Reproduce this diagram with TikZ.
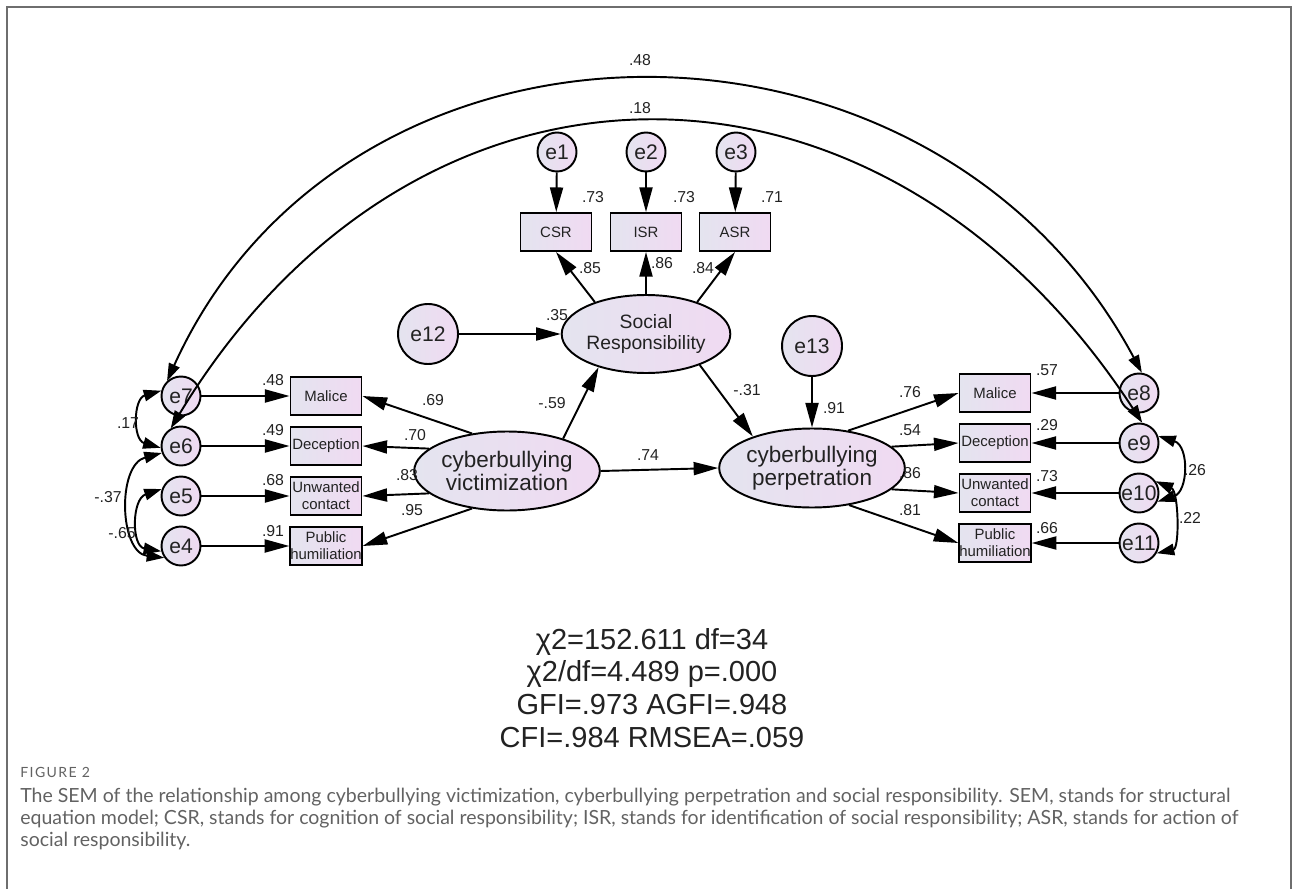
\documentclass[tikz,border=0pt]{standalone}
\usepackage{fontspec}
\setmainfont{Liberation Sans}
\newfontfamily\capfont{Lato}
\newfontfamily\figfont[LetterSpace=10]{Lato}
\usetikzlibrary{arrows.meta,positioning,shapes.geometric}

\definecolor{semlo}{HTML}{E4E4EF}
\definecolor{semhi}{HTML}{F0DAF2}
\definecolor{ink}{HTML}{222222}
\definecolor{capgray}{HTML}{626262}
\definecolor{framegray}{HTML}{6E6E6E}

\begin{document}
\begin{tikzpicture}[
  x=0.02cm, y=-0.02cm,
  shadefill/.style={draw=black, line width=1.1pt, left color=semlo, right color=semhi, text=ink},
  obs/.style={shadefill, rectangle, minimum width=1.42cm, minimum height=0.76cm, inner sep=0pt, align=center, font=\fontsize{8.5}{9.6}\selectfont},
  lat/.style={shadefill, ellipse, minimum width=2.88cm, minimum height=1.58cm, inner sep=0pt, align=center, font=\fontsize{12.8}{13}\selectfont},
  err/.style={shadefill, circle, minimum size=0.78cm, inner sep=0pt, font=\fontsize{12}{12}\selectfont},
  errbig/.style={err, minimum size=1.2cm},
  coef/.style={font=\fontsize{9}{9}\selectfont, text=ink, inner sep=0pt},
  reg/.style={line width=1.1pt, -{Triangle[length=14pt,width=7.4pt]}},
  cov/.style={line width=1.1pt, {Triangle[length=10pt,width=6.5pt]}-{Triangle[length=10pt,width=6.5pt]}}
]
\useasboundingbox (0,0) rectangle (1293,888);
\draw[framegray, line width=1.2pt] (7,900) -- (7,7) -- (1291,7) -- (1291,900);

% social responsibility block
\node[err] (e1) at (557,152) {e1};
\node[err] (e2) at (646,152) {e2};
\node[err] (e3) at (736,152) {e3};
\node[obs] (csr) at (556,232) {CSR};
\node[obs] (isr) at (646,232) {ISR};
\node[obs] (asr) at (735,232) {ASR};
\node[lat, minimum width=2.84cm, minimum height=1.56cm, font=\fontsize{11}{12.5}\selectfont] (soc) at (646,334) {Social\\Responsibility};
\node[errbig] (e12) at (428,334) {e12};
\node[errbig] (e13) at (812,346) {e13};

% latent variables
\node[lat] (vic) at (507,471) {cyberbullying\\victimization};
\node[lat] (per) at (812,468) {cyberbullying\\perpetration};

% victimization indicators
\node[obs] (vmal) at (326,396) {Malice};
\node[obs] (vdec) at (326,446) {Deception};
\node[obs] (vunw) at (326,496) {Unwanted\\contact};
\node[obs] (vpub) at (326,546) {Public\\humiliation};
\node[err] (e7) at (181,396) {e7};
\node[err] (e6) at (181,446) {e6};
\node[err] (e5) at (181,496) {e5};
\node[err] (e4) at (181,546) {e4};

% perpetration indicators
\node[obs] (pmal) at (995,393) {Malice};
\node[obs] (pdec) at (995,443) {Deception};
\node[obs] (punw) at (995,493) {Unwanted\\contact};
\node[obs] (ppub) at (995,543) {Public\\humiliation};
\node[err] (e8) at (1139,393) {e8};
\node[err] (e9) at (1139,443) {e9};
\node[err] (e10) at (1139,493) {e10};
\node[err] (e11) at (1139,543) {e11};

% paths
\draw[reg] (e1) -- (csr);
\draw[reg] (e2) -- (isr);
\draw[reg] (e3) -- (asr);
\draw[reg] (soc.148) -- (csr.south);
\draw[reg] (soc) -- (isr);
\draw[reg] (soc.32) -- (asr.south);
\draw[reg] (e12) -- (soc);
\draw[reg] (vic.30) -- (soc.215);
\draw[reg] (soc.-30) -- (per.152);
\draw[reg] (e13) -- (per);
\draw[reg] (vic.east) -- (per.west);
\draw[reg] (vic.133) -- (vmal.east);
\draw[reg] (vic.164) -- (vdec.east);
\draw[reg] (vic.196) -- (vunw.east);
\draw[reg] (vic.227) -- (vpub.east);
\draw[reg] (per.46) -- (pmal.west);
\draw[reg] (per.15) -- (pdec.west);
\draw[reg] (per.-15) -- (punw.west);
\draw[reg] (per.-45) -- (ppub.west);
\draw[reg] (e7) -- (vmal);
\draw[reg] (e6) -- (vdec);
\draw[reg] (e5) -- (vunw);
\draw[reg] (e4) -- (vpub);
\draw[reg] (e8) -- (pmal);
\draw[reg] (e9) -- (pdec);
\draw[reg] (e10) -- (punw);
\draw[reg] (e11) -- (ppub);

% covariances
\draw[cov] (e7.133) .. controls (348,-18) and (933,-18) .. (e8.82);
\draw[cov] (e6.120) .. controls (417,22) and (881,22) .. (e9.81);
\draw[cov] (e7.165) .. controls +(-28,8) and +(-28,-8) .. (e6.185);
\draw[cov] (e6.200) .. controls +(-45,12) and +(-45,-5) .. (e4.215);
\draw[cov] (e5.160) .. controls +(-30,10) and +(-30,-5) .. (e4.195);
\draw[cov] (e9.20) .. controls +(31,10) and +(31,-10) .. (e10.-25);
\draw[cov] (e10.35) .. controls +(23,10) and +(23,-5) .. (e11.-30);

% estimates
\node[coef] (c48) at (640,60) {.48};
\node[coef] (c18) at (640,108) {.18};
\node[coef] (rcsr) at (593,197) {.73};
\node[coef] (risr) at (684,197) {.73};
\node[coef] (rasr) at (772,197) {.71};
\node[coef] (lcsr) at (590,268) {.85};
\node[coef] (lisr) at (662,263) {.86};
\node[coef] (lasr) at (703,268) {.84};
\node[coef] (rsoc) at (557,315) {.35};
\node[coef] (bvs) at (552,403) {-.59};
\node[coef] (bsp) at (747,390) {-.31};
\node[coef] (rper) at (834,408) {.91};
\node[coef] (bvp) at (648,455) {.74};
\node[coef] (lvmal) at (433,400) {.69};
\node[coef] (lvdec) at (415,435) {.70};
\node[coef] (lvunw) at (407,475) {.83};
\node[coef] (lvpub) at (412,510) {.95};
\node[coef] (rvmal) at (273,380) {.48};
\node[coef] (rvdec) at (273,430) {.49};
\node[coef] (rvunw) at (273,480) {.68};
\node[coef] (rvpub) at (273,531) {.91};
\node[coef] (lpmal) at (910,392) {.76};
\node[coef] (lpdec) at (910,430) {.54};
\node[coef] (lpunw) at (910,473) {.86};
\node[coef] (lppub) at (910,510) {.81};
\node[coef] (rpmal) at (1047,370) {.57};
\node[coef] (rpdec) at (1047,425) {.29};
\node[coef] (rpunw) at (1047,476) {.73};
\node[coef] (rppub) at (1047,528) {.66};
\node[coef] (c17) at (128,423) {.17};
\node[coef] (c37) at (108,497) {-.37};
\node[coef] (c65) at (122,533) {-.65};
\node[coef] (c26) at (1195,470) {.26};
\node[coef] (c22) at (1190,518) {.22};

% fit indices
\node[align=center, text=ink, inner sep=0pt, font=\fontsize{16.5}{18.7}\selectfont] (fit) at (652,688)
  {χ2=152.611 df=34\\χ2/df=4.489 p=.000\\GFI=.973 AGFI=.948\\CFI=.984 RMSEA=.059};

% caption
\node[anchor=west, inner sep=0pt, text=capgray, font=\figfont\fontsize{8}{8}\selectfont] (figno) at (20,772) {FIGURE 2};
\node[anchor=north west, align=left, inner sep=0pt, text=capgray, font=\capfont\fontsize{11.1}{12.5}\selectfont] (cap) at (20,788)
  {The SEM of the relationship among cyberbullying victimization, cyberbullying perpetration and social responsibility. SEM, stands for structural\\
   equation model; CSR, stands for cognition of social responsibility; ISR, stands for identification of social responsibility; ASR, stands for action of\\
   social responsibility.};
\end{tikzpicture}
\end{document}
